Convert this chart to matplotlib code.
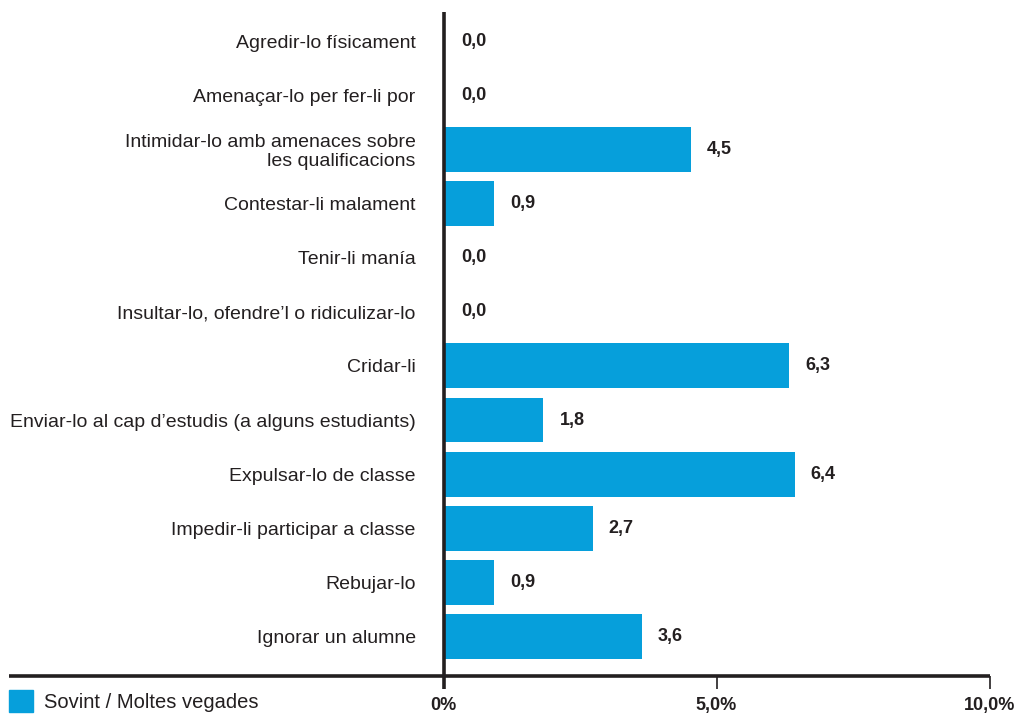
import matplotlib.pyplot as plt
from matplotlib.lines import Line2D
from matplotlib.patches import Rectangle

categories = [
    "Agredir-lo físicament",
    "Amenaçar-lo per fer-li por",
    "Intimidar-lo amb amenaces sobre\nles qualificacions",
    "Contestar-li malament",
    "Tenir-li manía",
    "Insultar-lo, ofendre'l o ridiculizar-lo",
    "Cridar-li",
    "Enviar-lo al cap d'estudis (a alguns estudiants)",
    "Expulsar-lo de classe",
    "Impedir-li participar a classe",
    "Rebujar-lo",
    "Ignorar un alumne",
]
values = [0.0, 0.0, 4.5, 0.9, 0.0, 0.0, 6.3, 1.8, 6.4, 2.7, 0.9, 3.6]
tick_values = [0, 5, 10]
tick_labels = ["0%", "5,0%", "10,0%"]
legend_label = "Sovint / Moltes vegades"

BLUE = "#069FDB"
DARK = "#231F20"

plt.rcParams["font.family"] = ["Liberation Sans", "DejaVu Sans"]

W, H = 1017, 715
fig = plt.figure(figsize=(W / 100, H / 100), dpi=100)

# axes box in pixels: left 443.5, right 989.5, top 12, bottom 676
L, R, T, B = 443.5, 989.5, 12, 676
ax = fig.add_axes([L / W, (H - B) / H, (R - L) / W, (B - T) / H])

pos = list(range(len(categories)))
ax.barh(pos, values, height=0.83, color=BLUE, left=0.03)
ax.set_xlim(0, 10)
ax.set_ylim(11.73, -0.54)

for p, v in zip(pos, values):
    ax.annotate(f"{v:.1f}".replace(".", ","), (v + 0.03, p),
                xytext=(16, 0), textcoords="offset pixels",
                ha="left", va="center", fontsize=13, fontweight="bold",
                color=DARK)

ax.set_yticks(pos)
ax.set_yticklabels([c.replace("'", "\u2019") for c in categories],
                   fontsize=14, color=DARK, linespacing=1.15)
ax.tick_params(axis="y", length=0, pad=20)

ax.set_xticks(tick_values)
ax.set_xticklabels(tick_labels, fontsize=13, fontweight="bold", color=DARK)
ax.tick_params(axis="x", length=9, width=1.2, color=DARK, pad=6)
ax.get_xticklines()[0].set_visible(False)

for s in ["top", "right", "bottom", "left"]:
    ax.spines[s].set_visible(False)

# thick vertical zero line, running a little below the base line
ax.plot([0, 0], [-0.54, 11.73 + 13 / 54.1], color=DARK, lw=2.6,
        clip_on=False, solid_capstyle="butt", zorder=5)

# base line runs left under the labels
fig.add_artist(Line2D([9 / W, R / W], [(H - B) / H] * 2,
                      color=DARK, lw=2.6, solid_capstyle="butt"))

# legend
fig.add_artist(Rectangle((9 / W, (H - 712) / H), 24 / W, 22 / H,
                         color=BLUE, transform=fig.transFigure))
fig.text(44 / W, (H - 703) / H, legend_label, fontsize=14.5, color=DARK,
         ha="left", va="center")

fig.savefig("out.png", dpi=100)
